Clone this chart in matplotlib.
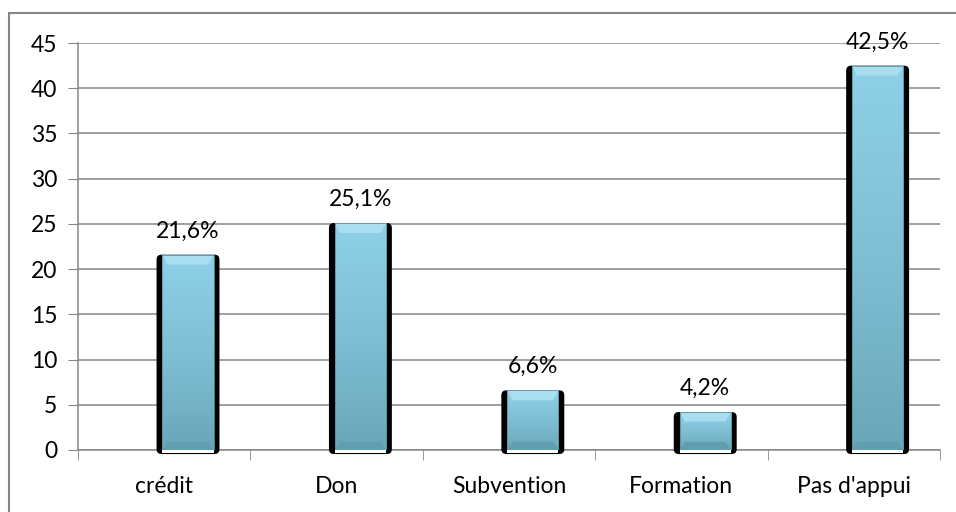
import matplotlib
matplotlib.use("Agg")
import matplotlib.pyplot as plt
import numpy as np
from matplotlib.patches import FancyBboxPatch, Rectangle, Polygon
from matplotlib.colors import LinearSegmentedColormap

categories = ["crédit", "Don", "Subvention", "Formation", "Pas d'appui"]
values = [21.6, 25.1, 6.6, 4.2, 42.5]
labels = ["21,6%", "25,1%", "6,6%", "4,2%", "42,5%"]
yticks = [0, 5, 10, 15, 20, 25, 30, 35, 40, 45]

plt.rcParams['font.family'] = ['Lato', 'DejaVu Sans']
FS = 16.5

fig = plt.figure(figsize=(9.56, 5.12), dpi=100)
ax = fig.add_axes([0.0816, 0.1211, 0.9017, 0.7949])

grey = "#868686"
x = np.arange(len(categories))
shift = 0.138          # bars sit right of the category centre
w_shadow = 0.365
w_bar = 0.297

ax.set_xlim(-0.5, len(categories) - 0.5)
ax.set_ylim(0, 45)

cmap = LinearSegmentedColormap.from_list("blue", ["#6aa6b9", "#7fbfd4", "#8ed1e8"])
grad = np.linspace(0, 1, 256).reshape(-1, 1)

for xi, v, lab in zip(x, values, labels):
    cx = xi + shift
    # dark drop shadow behind each bar
    shadow = FancyBboxPatch((cx - w_shadow / 2, -0.45), w_shadow, v + 0.45,
                            boxstyle="round,pad=0,rounding_size=0.03",
                            mutation_aspect=18, facecolor="black",
                            edgecolor="none", zorder=3, clip_on=False)
    ax.add_patch(shadow)
    # thin white strip under the face
    ax.add_patch(Rectangle((cx - w_bar / 2, -0.35), w_bar, 0.35, facecolor="white",
                           edgecolor="none", zorder=4, clip_on=False))
    # gradient face of the bar
    bar = ax.bar(cx, v, width=w_bar, color="none", edgecolor="none", zorder=4)[0]
    im = ax.imshow(grad, extent=(cx - w_bar / 2, cx + w_bar / 2, 0, v),
                   origin="lower", cmap=cmap, aspect="auto", zorder=4)
    im.set_clip_path(bar)
    # bevel on the top edge
    bev_h = min(1.1, v * 0.25)
    bev_w = 0.03
    ax.add_patch(Polygon([(cx - w_bar / 2, v), (cx + w_bar / 2, v),
                          (cx + w_bar / 2 - bev_w, v - bev_h),
                          (cx - w_bar / 2 + bev_w, v - bev_h)],
                         closed=True, facecolor="#a9def0", edgecolor="none", zorder=5))
    ax.add_patch(Polygon([(cx - w_bar / 2, 0), (cx + w_bar / 2, 0),
                          (cx + w_bar / 2 - bev_w, 0.9),
                          (cx - w_bar / 2 + bev_w, 0.9)],
                         closed=True, facecolor="#639db0", edgecolor="none", zorder=5))
    ax.add_patch(Rectangle((cx - w_bar / 2, 0), w_bar, v, facecolor="none",
                           edgecolor="#5a8fa0", linewidth=0.6, zorder=6))
    ax.text(cx, v + 1.9, lab, ha="center", va="baseline", fontsize=FS, zorder=7)

ax.set_xticks(x)
ax.set_xticklabels(categories, fontsize=FS)
ax.set_xticks(np.arange(-0.5, len(categories)), minor=True)
ax.tick_params(axis="x", which="major", length=0, pad=19)
ax.tick_params(axis="x", which="minor", length=7, color=grey, direction="out")
ax.set_yticks(yticks)
ax.set_yticklabels([str(t) for t in yticks], fontsize=FS)
ax.tick_params(axis="y", length=7, color=grey, direction="out", pad=8)

ax.grid(axis="y", color=grey, linewidth=1.1, zorder=1)
ax.set_axisbelow(True)
for s in ["top", "right"]:
    ax.spines[s].set_visible(False)
for s in ["left", "bottom"]:
    ax.spines[s].set_color(grey)
    ax.spines[s].set_linewidth(1.1)

# outer chart frame
fig.add_artist(Rectangle((9 / 956, -0.05), 1.2, (512 - 13) / 512 + 0.05,
                         transform=fig.transFigure, facecolor="none",
                         edgecolor=grey, linewidth=1.5))

fig.savefig("out.png", dpi=100)
